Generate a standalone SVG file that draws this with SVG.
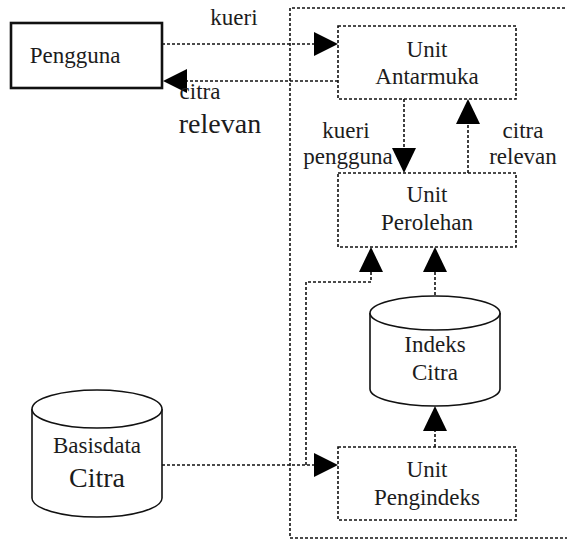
<svg xmlns="http://www.w3.org/2000/svg" width="567" height="544" viewBox="0 0 567 544">
<style>
text{font-family:"Liberation Serif","Tinos","Times New Roman",Times,"Noto Serif","DejaVu Serif",serif;font-size:23px;fill:#1c1c1c;text-anchor:middle}
.big{font-size:28px}
.dot{fill:none;stroke:#111;stroke-width:1.6;stroke-dasharray:3 2}
.solid{fill:#fff;stroke:#111;stroke-width:1.6}
.head{fill:#000}
</style>
<rect width="567" height="544" fill="#fff"/>
<g id="system-boundary"><path class="dot" d="M570,8 H290 V538 H570"/></g>
<g id="connectors">
<path class="dot" d="M162,44 H314"/>
<polygon class="head" points="314,32 338,44 314,56"/>
<path class="dot" d="M338,81 H186"/>
<polygon class="head" points="187,69 163,81 187,93"/>
<path class="dot" d="M404,99 V149"/>
<polygon class="head" points="392,148 404,173 416,148"/>
<path class="dot" d="M468,173 V123"/>
<polygon class="head" points="456,124 468,99 480,124"/>
<path class="dot" d="M435,295 V271"/>
<polygon class="head" points="423,272 435,247 447,272"/>
<path class="dot" d="M435,447 V430"/>
<polygon class="head" points="423,431 435,406 447,431"/>
<path class="dot" d="M162,465 H314"/>
<polygon class="head" points="314,453 338,465 314,477"/>
<path class="dot" d="M306,465 V282 H371 V271"/>
<polygon class="head" points="359,272 371,247 383,272"/>
<text x="234" y="25">kueri</text>
<text x="200" y="99">citra</text>
<text class="big" x="220" y="133">relevan</text>
<text x="346" y="138">kueri</text>
<text x="348" y="164">pengguna</text>
<text x="523" y="138">citra</text>
<text x="523" y="164">relevan</text>
</g>
<g id="pengguna">
<rect x="11" y="23" width="151" height="65" fill="#fff" stroke="#111" stroke-width="2.6"/>
<text x="75" y="63">Pengguna</text>
</g>
<g id="unit-antarmuka">
<rect class="dot" x="338" y="26" width="178" height="73"/>
<text x="427" y="57">Unit</text>
<text x="427" y="84">Antarmuka</text>
</g>
<g id="unit-perolehan">
<rect class="dot" x="338" y="173" width="178" height="74"/>
<text x="427" y="202">Unit</text>
<text x="427" y="230">Perolehan</text>
</g>
<g id="indeks-citra">
<path class="solid" d="M370,313 V389 A65,17 0 0 0 500,389 V313"/>
<ellipse class="solid" cx="435" cy="313" rx="65" ry="17"/>
<text x="435" y="352">Indeks</text>
<text x="435" y="380">Citra</text>
</g>
<g id="unit-pengindeks">
<rect class="dot" x="338" y="447" width="178" height="73"/>
<text x="427" y="477">Unit</text>
<text x="427" y="505">Pengindeks</text>
</g>
<g id="basisdata-citra">
<path class="solid" d="M32,409 V498 A65,19 0 0 0 162,498 V409"/>
<ellipse class="solid" cx="97" cy="409" rx="65" ry="19"/>
<text x="97" y="453">Basisdata</text>
<text class="big" x="97" y="487">Citra</text>
</g>
</svg>
